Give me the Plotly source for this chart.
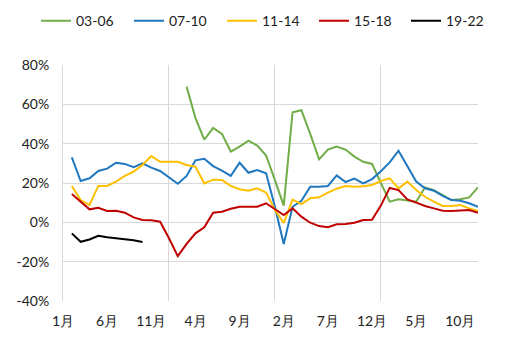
import plotly.graph_objects as go

# month positions 0..47 (label "1月" at 0)
months = list(range(48))
tick_pos = [0, 5, 10, 15, 20, 25, 30, 35, 40, 45]
tick_labels = ["1月", "6月", "11月", "4月", "9月", "2月", "7月", "12月", "5月", "10月"]
y_ticks = [-40, -20, 0, 20, 40, 60, 80]
y_labels = ["-40%", "-20%", "0%", "20%", "40%", "60%", "80%"]

x_03_06 = list(range(14, 48))
v_03_06 = [69, 53, 42, 48, 45, 36, 38.5, 41.5, 39, 34, 21.5, 8.5, 56, 57, 45, 32,
           37, 38.5, 37, 33.4, 30.8, 29.7, 20, 10.5, 11.7, 11, 10.5, 17.8, 16.4,
           13.9, 11.3, 11.7, 12.7, 17.8]

x_07_10 = list(range(1, 48))
v_07_10 = [33, 21, 22.4, 26.1, 27.3, 30.3, 29.7, 28.1, 30, 27.8, 26.1, 22.9, 19.6,
           23.6, 31.5, 32.3, 28.6, 26.3, 23.6, 30.3, 25.2, 26.6, 24.9, 7.9, -11,
           7.9, 11, 18.1, 18.1, 18.5, 23.9, 20.5, 22.2, 19.8, 22, 26, 30.5, 36.4,
           28.3, 20.7, 17.3, 16.1, 13.4, 11.3, 11, 9.7, 7.9]

x_11_14 = list(range(1, 48))
v_11_14 = [18.5, 11.3, 8.8, 18.5, 18.5, 20.7, 23.6, 25.8, 29.2, 33.7, 30.8, 30.8,
           30.8, 29.2, 28.3, 19.8, 21.7, 21.5, 18.5, 16.8, 16.1, 17.3, 15.1, 6.3,
           -0.3, 11.5, 9.3, 12.2, 12.7, 15.1, 17.1, 18.5, 18.1, 18.3, 19, 21, 22.4,
           17.3, 20.7, 16.4, 13, 10.5, 8.3, 8.3, 8.8, 7.1, 5.8]

x_15_18 = list(range(1, 48))
v_15_18 = [14.4, 10.5, 6.6, 7.4, 5.8, 5.9, 4.9, 2.5, 1.2, 1.0, 0.3, -8.1, -17.2,
           -11, -5.6, -2.5, 4.9, 5.4, 6.9, 7.9, 7.9, 7.9, 9.7, 6.6, 3.7, 7.1, 2.9,
           -0.2, -1.9, -2.5, -1, -0.9, -0.2, 1.2, 1.3, 8.5, 17.5, 16.4, 11.7, 10,
           8.3, 7.1, 5.9, 5.8, 5.9, 6.3, 4.9]

x_19_22 = list(range(1, 10))
v_19_22 = [-5.6, -9.9, -8.7, -6.8, -7.6, -8.1, -8.7, -9.1, -10]

series = [
    ("03-06", x_03_06, v_03_06, "#70AD47"),
    ("07-10", x_07_10, v_07_10, "#1F77C0"),
    ("11-14", x_11_14, v_11_14, "#FFC000"),
    ("15-18", x_15_18, v_15_18, "#C00000"),
    ("19-22", x_19_22, v_19_22, "#000000"),
]

font = dict(family="Lato, 'DejaVu Sans', sans-serif", size=14, color="#222222")
grid = "#D9D9D9"
W = 513
legend_left_px = [36, 129, 222, 314, 406]

fig = go.Figure()
legend_layout = {}
for i, (name, xs, ys, col) in enumerate(series):
    key = "legend" if i == 0 else f"legend{i + 1}"
    fig.add_trace(go.Scatter(x=xs, y=ys, mode="lines", name=name, legend=key,
                             line=dict(color=col, width=2)))
    legend_layout[key] = dict(
        orientation="h", x=legend_left_px[i] / W, xanchor="left", xref="container",
        y=0.985, yanchor="top", yref="container", font=font,
        bgcolor="rgba(0,0,0,0)")

fig.update_layout(
    width=W, height=348,
    margin=dict(l=63, r=35, t=65, b=47, autoexpand=False),
    paper_bgcolor="white", plot_bgcolor="white",
    font=font,
    showlegend=True,
    **legend_layout,
)
fig.update_xaxes(
    range=[0, 47], tickmode="array", tickvals=tick_pos, ticktext=tick_labels,
    showgrid=False, zeroline=False, showline=False, ticks="",
    ticklabelstandoff=10,
    minor=dict(tick0=0, dtick=12, showgrid=True, gridcolor=grid, gridwidth=1, ticks=""),
)
fig.update_yaxes(
    range=[-40, 80], tickmode="array", tickvals=y_ticks, ticktext=y_labels,
    showgrid=True, gridcolor=grid, gridwidth=1, zeroline=False,
    showline=True, linecolor=grid, linewidth=1, ticks="",
    ticklabelstandoff=10,
)

fig.write_html("out.html")
